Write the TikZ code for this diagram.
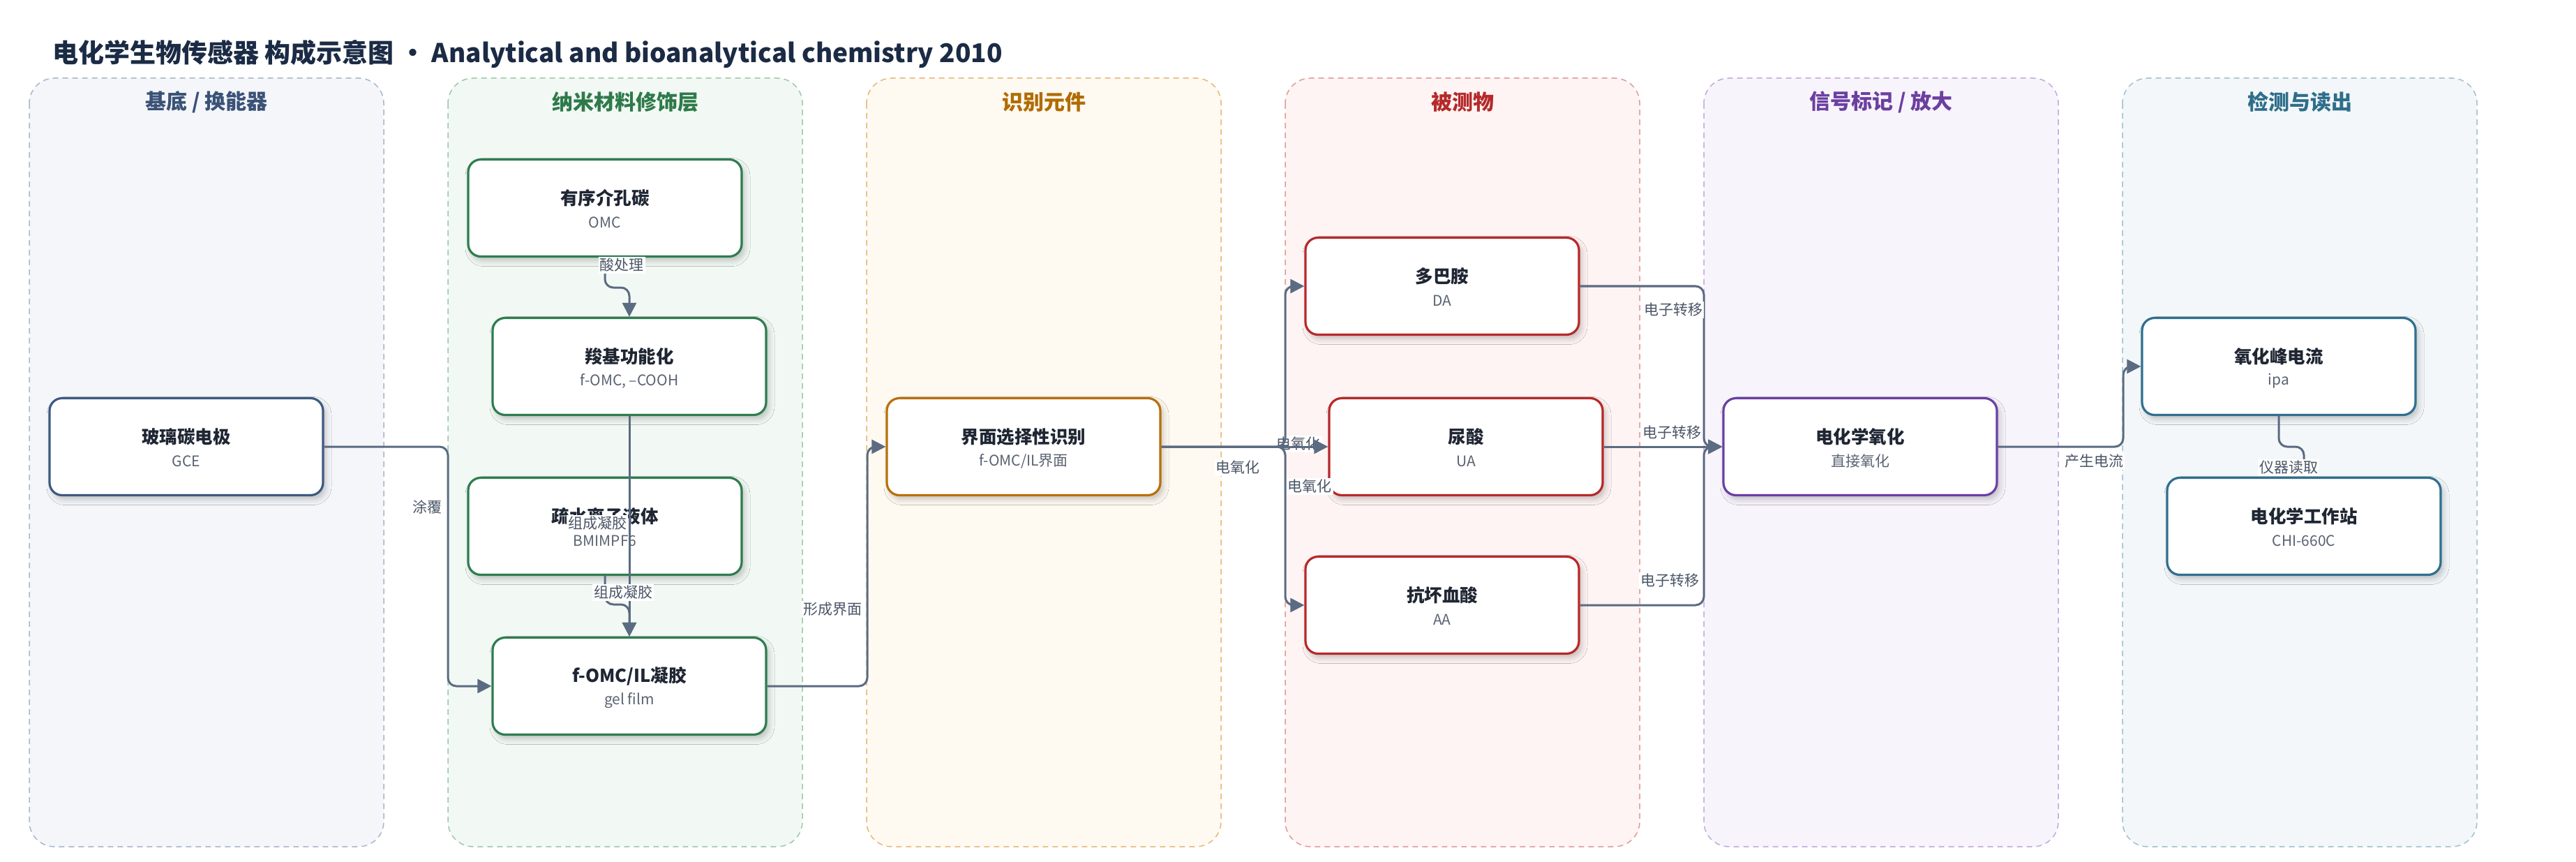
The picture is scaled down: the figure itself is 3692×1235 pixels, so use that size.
\documentclass[tikz,border=0pt]{standalone}
\usepackage{fontspec}
\setmainfont{Noto Sans CJK SC}
\usetikzlibrary{arrows.meta,shadows.blur}

\definecolor{ttlc}{HTML}{1B2B45}
\definecolor{nodetxt}{HTML}{1F2633}
\definecolor{subtxt}{HTML}{5A6372}
\definecolor{edgec}{HTML}{5B6B82}
\definecolor{labc}{HTML}{4A5566}
% lane fills / borders / headers / node borders
\definecolor{fA}{HTML}{F4F6FA}\definecolor{bA}{HTML}{A9B6CC}\definecolor{hA}{HTML}{3B5277}\definecolor{nA}{HTML}{3D5A80}
\definecolor{fB}{HTML}{F2F8F4}\definecolor{bB}{HTML}{9CC9AB}\definecolor{hB}{HTML}{2E7A4A}\definecolor{nB}{HTML}{2E7D4F}
\definecolor{fC}{HTML}{FEF9F1}\definecolor{bC}{HTML}{E6B877}\definecolor{hC}{HTML}{B06C00}\definecolor{nC}{HTML}{B8700A}
\definecolor{fD}{HTML}{FDF4F3}\definecolor{bD}{HTML}{E09A9A}\definecolor{hD}{HTML}{B52A2A}\definecolor{nD}{HTML}{B8282A}
\definecolor{fE}{HTML}{F7F4FC}\definecolor{bE}{HTML}{C2A8E0}\definecolor{hE}{HTML}{6B3FA0}\definecolor{nE}{HTML}{6A3FA3}
\definecolor{fF}{HTML}{F3F7F9}\definecolor{bF}{HTML}{9FC0CF}\definecolor{hF}{HTML}{2E6E8A}\definecolor{nF}{HTML}{2F6F8F}

\newcommand\mklane[6]{% index, fill, border, header colour, header text, name
  \draw[lanebox, fill=#2, draw=#3] (42+600*#1,112) rectangle (550+600*#1,1213);
  \node[lanehdr, text=#4] (#6) at (296+600*#1,146) {#5};
}
\newcommand\mkbox[6]{% name, cx, cy, colour, title, subtitle
  \node[nbox, draw=#4] (#1) at (#2,#3) {};
  \node[ntitle] (#1-t) at (#2,#3-14) {#5};
  \node[nsub] (#1-s) at (#2,#3+21) {#6};
}

\begin{document}
\begin{tikzpicture}[x=0.5pt,y=-0.5pt,
  lanebox/.style={line width=0.75pt, dash pattern=on 4pt off 3pt, rounded corners=18pt},
  lanehdr/.style={font=\bfseries\fontsize{15}{18}\selectfont, inner sep=0pt},
  nbox/.style={fill=white, line width=1.6pt, rounded corners=9pt,
    minimum width=196pt, minimum height=69.5pt, inner sep=0pt,
    blur shadow={shadow xshift=2pt, shadow yshift=-3pt, shadow blur radius=4pt, shadow opacity=22}},
  ntitle/.style={font=\bfseries\fontsize{12.75}{15}\selectfont, text=nodetxt, inner sep=0pt},
  nsub/.style={font=\fontsize{10.5}{12}\selectfont, text=subtxt, inner sep=0pt},
  conn/.style={draw=edgec, line width=1.5pt, rounded corners=6pt, -{Triangle[length=10pt,width=10pt]}},
  elab/.style={font=\fontsize{10.5}{12}\selectfont, text=labc, fill=white, inner sep=1pt},
]
\useasboundingbox (0,0) rectangle (3692,1235);
\fill[white] (0,0) rectangle (3692,1235);

% title
\node[anchor=west, font=\bfseries\fontsize{18.5}{22}\selectfont, text=ttlc, inner sep=0pt] (title) at (75,77)
  {电化学生物传感器 构成示意图 · Analytical and bioanalytical chemistry 2010};

% lanes
\mklane{0}{fA}{bA}{hA}{基底 / 换能器}{h1}
\mklane{1}{fB}{bB}{hB}{纳米材料修饰层}{h2}
\mklane{2}{fC}{bC}{hC}{识别元件}{h3}
\mklane{3}{fD}{bD}{hD}{被测物}{h4}
\mklane{4}{fE}{bE}{hE}{信号标记 / 放大}{h5}
\mklane{5}{fF}{bF}{hF}{检测与读出}{h6}

% nodes
\mkbox{gce}{267}{640}{nA}{玻璃碳电极}{GCE}
\mkbox{omc}{867}{298}{nB}{有序介孔碳}{OMC}
\mkbox{cooh}{902}{525}{nB}{羧基功能化}{f-OMC, –COOH}
\mkbox{il}{867}{754}{nB}{疏水离子液体}{BMIMPF6}
\mkbox{gel}{902}{983}{nB}{f-OMC/IL凝胶}{gel film}
\mkbox{iface}{1467}{640}{nC}{界面选择性识别}{f-OMC/IL界面}
\mkbox{da}{2067}{410}{nD}{多巴胺}{DA}
\mkbox{ua}{2101}{640}{nD}{尿酸}{UA}
\mkbox{aa}{2067}{867}{nD}{抗坏血酸}{AA}
\mkbox{eox}{2666}{640}{nE}{电化学氧化}{直接氧化}
\mkbox{ipa}{3266}{525}{nF}{氧化峰电流}{ipa}
\mkbox{chi}{3302}{754}{nF}{电化学工作站}{CHI-660C}

% label lying under the lines
\node[elab] (l-eo2) at (1861,636) {电氧化};

% connectors
\draw[conn] (omc.south) -- (867,412) -- (902,412) -- (cooh.north);
\draw[conn] (cooh.south) -- (gel.north);
\draw[conn] (il.south) -- (867,866) -- (902,866) -- (gel.north);
\draw[conn] (gce.east) -- (642,640) |- (gel.west);
\draw[conn] (gel.east) -- (1243,983) |- (iface.west);
\draw[conn] (iface.east) -- (1842,640) |- (da.west);
\draw[conn] (iface.east) -- (1842,640) |- (aa.west);
\draw[conn] (iface.east) -- (ua.west);
\draw[conn] (da.east) -- (2442,410) |- (eox.west);
\draw[conn] (aa.east) -- (2442,867) |- (eox.west);
\draw[conn] (ua.east) -- (eox.west);
\draw[conn] (eox.east) -- (3043,640) |- (ipa.west);
\draw[conn] (ipa.south) -- (3266,640) -- (3302,640) -- (chi.north);

% edge labels
\node[elab] (l-acid) at (891,380) {酸处理};
\node[elab] (l-gel1) at (856,750) {组成凝胶};
\node[elab] (l-gel2) at (893,849) {组成凝胶};
\node[elab] (l-coat) at (612,726) {涂覆};
\node[elab] (l-form) at (1193,873) {形成界面};
\node[elab] (l-eo1) at (1774,670) {电氧化};
\node[elab] (l-eo3) at (1877,697) {电氧化};
\node[elab] (l-et1) at (2398,444) {电子转移};
\node[elab] (l-et2) at (2396,620) {电子转移};
\node[elab] (l-et3) at (2393,832) {电子转移};
\node[elab] (l-cur) at (3001,661) {产生电流};
\node[elab] (l-read) at (3280,670) {仪器读取};
\end{tikzpicture}
\end{document}
